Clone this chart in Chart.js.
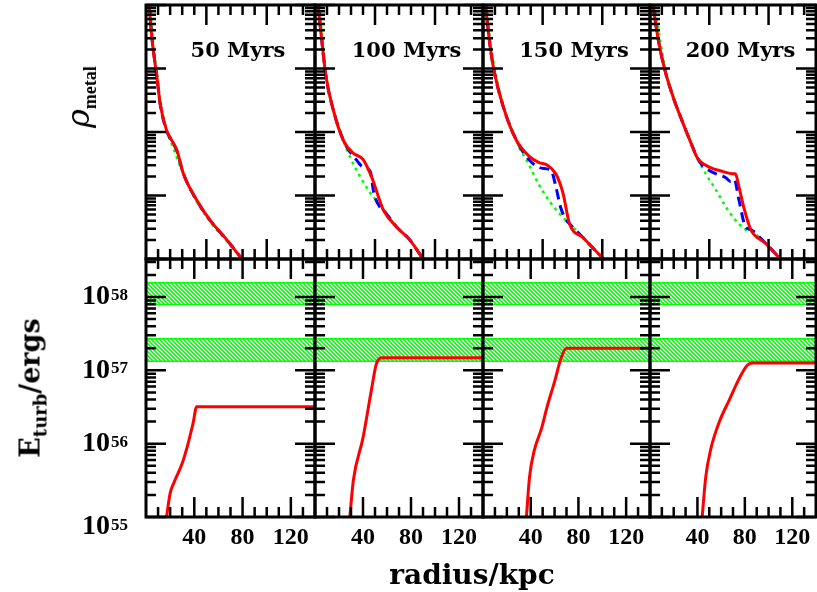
<!DOCTYPE html>
<html>
<head>
<meta charset="utf-8">
<script src="https://cdn.jsdelivr.net/npm/chart.js@4.4.1/dist/chart.umd.min.js"></script>
<style>
  body { margin: 0; background: #fff; }
  #wrap { position: relative; width: 817px; height: 592px; overflow: hidden; background: #fff; }
  #wrap canvas { position: absolute; left: 0; top: 0; pointer-events: none; }
  .lbl { position: absolute; white-space: nowrap; color: #000; line-height: 1; transform: translate(-50%, -50%); }
  .rot { transform: translate(-50%, -50%) rotate(-90deg); }
</style>
</head>
<body>
<div id="wrap"></div>
<script>
// snapshot names
const snapshotLabels = ['50 Myrs', '100 Myrs', '150 Myrs', '200 Myrs']

// top row: metal density (arbitrary units) vs radius (kpc)
// red = solid, blue = dashed, green = dotted
const redX50 = [2.5, 4.5, 6, 9, 11.7, 17, 21, 25.5, 31, 42, 53, 67, 79.5]
const redRho50 = [1.05, 0.36, 0.195, 0.074, 0.028, 0.0107, 0.0076, 0.0052, 0.0022, 8.5e-4, 4.1e-4, 2.0e-4, 1.0e-4]
const blueX50 = [2.5, 4.5, 6, 9, 11.7, 17, 21, 25.5, 31, 42, 53, 67, 79.5]
const blueRho50 = [1.05, 0.36, 0.2, 0.075, 0.028, 0.0105, 0.0074, 0.0051, 0.0022, 8.4e-4, 4.1e-4, 2.0e-4, 1.0e-4]
const greenX50 = [3.5, 6, 9, 12, 17, 22, 28, 33, 42, 53, 67, 79.5]
const greenRho50 = [1.0, 0.24, 0.085, 0.030, 0.0107, 0.0060, 0.0030, 0.0018, 8.0e-4, 3.9e-4, 1.9e-4, 1.0e-4]

const redX100 = [2.5, 5.6, 9.2, 15.3, 23.6, 32, 36, 40, 47, 57, 68, 79, 90]
const redRho100 = [1.0, 0.28, 0.074, 0.022, 0.0074, 0.0046, 0.0042, 0.0037, 0.0020, 5.9e-4, 3.2e-4, 2.0e-4, 1.0e-4]
const blueX100 = [2.5, 5.6, 9.2, 15.3, 23.6, 28, 32, 40, 46, 49, 54, 57, 68, 79, 90]
const blueRho100 = [1.0, 0.28, 0.074, 0.022, 0.0074, 0.0052, 0.0042, 0.0028, 0.0024, 0.0011, 6.6e-4, 5.9e-4, 3.2e-4, 2.0e-4, 1.0e-4]
const greenX100 = [3.5, 6, 9.2, 15.3, 23.6, 29, 37.5, 46, 53, 57, 68, 79, 90]
const greenRho100 = [1.0, 0.32, 0.079, 0.023, 0.0074, 0.0041, 0.0020, 0.0011, 7.6e-4, 5.9e-4, 3.2e-4, 2.0e-4, 1.0e-4]

const redX150 = [2, 5.3, 8.6, 17, 28, 39, 47, 54, 61, 67, 72.5, 83.6, 101]
const redRho150 = [1.0, 0.28, 0.107, 0.025, 0.0074, 0.0041, 0.0033, 0.0030, 0.0022, 0.0011, 3.6e-4, 2.2e-4, 1.0e-4]
const blueX150 = [2, 5.3, 8.6, 17, 28, 39, 49, 57, 61, 65, 69.7, 72.5, 83.6, 101]
const blueRho150 = [1.0, 0.28, 0.107, 0.025, 0.0074, 0.0036, 0.0027, 0.0025, 0.0014, 6.6e-4, 4.1e-4, 3.6e-4, 2.2e-4, 1.0e-4]
const greenX150 = [3, 6, 9.5, 17, 25, 30, 38, 46.7, 55, 64, 71, 72.5, 83.6, 101]
const greenRho150 = [1.0, 0.28, 0.107, 0.026, 0.010, 0.0059, 0.0032, 0.0015, 8.5e-4, 5.2e-4, 3.8e-4, 3.6e-4, 2.2e-4, 1.0e-4]

const redX200 = [2.5, 7, 12.5, 19.4, 27.8, 34, 40, 50, 61, 70, 72, 75, 79, 85, 97, 110]
const redRho200 = [1.0, 0.28, 0.095, 0.036, 0.0138, 0.0071, 0.0039, 0.0028, 0.0024, 0.0022, 0.0022, 0.00138, 6.6e-4, 2.9e-4, 1.8e-4, 1.0e-4]
const blueX200 = [2.5, 7, 12.5, 19.4, 27.8, 34, 40, 44, 55.5, 64, 68, 71, 75, 80.6, 85, 97, 110]
const blueRho200 = [1.0, 0.28, 0.095, 0.036, 0.0138, 0.0071, 0.0039, 0.0030, 0.0022, 0.0019, 0.00166, 0.0018, 8.5e-4, 3.2e-4, 2.9e-4, 1.8e-4, 1.0e-4]
const greenX200 = [3.5, 8, 12.5, 19.4, 27.8, 34, 40, 47, 55.6, 64, 72, 80.6, 85, 97, 110]
const greenRho200 = [1.0, 0.32, 0.105, 0.038, 0.0138, 0.0071, 0.0039, 0.0022, 0.00123, 6.6e-4, 4.1e-4, 2.9e-4, 2.75e-4, 1.8e-4, 1.0e-4]

// bottom row: turbulent energy (ergs) vs radius (kpc)
const eX50 = [17, 20, 23, 30, 34, 39, 42, 140]
const eTurb50 = [1.0e55, 2.1e55, 2.9e55, 5.4e55, 8.9e55, 1.9e56, 3.2e56, 3.2e56]
const eX100 = [29, 32, 40, 47, 51, 55.6, 140]
const eTurb100 = [1.0e55, 3.2e55, 1.2e56, 5.4e56, 1.2e57, 1.48e57, 1.48e57]
const eX150 = [36.4, 39, 43, 49, 54, 60, 65.6, 70, 140]
const eTurb150 = [1.0e55, 3.5e55, 8.1e55, 1.6e56, 3.3e56, 7.0e56, 1.5e57, 2.0e57, 2.0e57]
const eX200 = [44, 47, 51, 58, 67, 75, 82, 86, 140]
const eTurb200 = [1.0e55, 3.5e55, 8.1e55, 1.9e56, 4.0e56, 7.6e56, 1.17e57, 1.26e57, 1.26e57]

// hatched energy bands (ergs)
const bandUpper = [1.57e58, 2.7e57]
const bandLower = [7.9e57, 1.33e57]

// axes
const radiusRange = [0, 140]
const rhoRange = [1e-4, 1]
const energyRange = [1e55, 3.3e58]
const radiusTicks = [40, 80, 120]
const energyTicks = [1e55, 1e56, 1e57, 1e58]
const energyExp = ['55', '56', '57', '58']


const W = 817, H = 592
const panelLeft = [146, 315, 483, 650]
const panelRight = [315, 483, 650, 816]
const rowTop = [5, 259]
const rowBottom = [259, 517]

const wrap = document.getElementById('wrap')

function pts(xs, ys) {
    return xs.map((x, i) => ({x: x, y: ys[i]}))
}

function hatch() {
    let c = document.createElement('canvas')
    c.width = 4; c.height = 4
    let g = c.getContext('2d')
    g.strokeStyle = '#00ff00'
    g.lineWidth = 1.6
    g.beginPath()
    g.moveTo(-1, -1); g.lineTo(5, 5)
    g.moveTo(-1, 3); g.lineTo(1, 5)
    g.moveTo(3, -1); g.lineTo(5, 1)
    g.stroke()
    return g.createPattern(c, 'repeat')
}

// inward ticks on all four sides + frame + tick labels
const framePlugin = {
    id: 'frame',
    afterDraw(chart, args, o) {
        const ctx = chart.ctx
        const a = chart.chartArea
        const x = chart.scales.x, y = chart.scales.y
        ctx.save()
        ctx.strokeStyle = '#000'
        ctx.lineWidth = 2.5
        ctx.beginPath()
        for (let v = 10; v < x.max; v += 10) {
            let px = x.getPixelForValue(v)
            let len = v % o.xMajor === 0 ? 20 : 10
            ctx.moveTo(px, a.bottom); ctx.lineTo(px, a.bottom - len)
            ctx.moveTo(px, a.top); ctx.lineTo(px, a.top + len)
        }
        let e0 = Math.floor(Math.log10(y.min)), e1 = Math.ceil(Math.log10(y.max))
        for (let e = e0; e <= e1; e++) {
            for (let k = 1; k <= 9; k++) {
                let v = k * Math.pow(10, e)
                if (v < y.min * 0.999 || v > y.max * 1.001) continue
                let py = y.getPixelForValue(v)
                let len = k === 1 ? 20 : 10
                ctx.moveTo(a.left, py); ctx.lineTo(a.left + len, py)
                ctx.moveTo(a.right, py); ctx.lineTo(a.right - len, py)
            }
        }
        ctx.stroke()
        ctx.lineWidth = 3
        ctx.strokeRect(a.left, a.top, a.right - a.left, a.bottom - a.top)

        ctx.fillStyle = '#000'
        if (o.xLabels) {
            ctx.font = 'bold 24px "Liberation Serif"'
            ctx.textAlign = 'center'
            ctx.textBaseline = 'middle'
            o.xLabels.forEach(v => ctx.fillText(String(v), x.getPixelForValue(v), a.bottom + 21))
        }
        if (o.yLabels) {
            o.yLabels.forEach((v, i) => {
                let py = y.getPixelForValue(v)
                if (i === 0) py += 10
                ctx.font = 'bold 28px "Liberation Serif"'
                ctx.textAlign = 'right'
                ctx.textBaseline = 'middle'
                ctx.fillText('10', a.left - 36, py)
                ctx.font = 'bold 17px "Liberation Serif"'
                ctx.textAlign = 'left'
                ctx.textBaseline = 'top'
                ctx.fillText(o.yExp[i], a.left - 35, py - 10)
            })
        }
        ctx.restore()
    }
}

function makePanel(col, row, datasets, yRange, frameOpts) {
    let cv = document.createElement('canvas')
    cv.width = W; cv.height = H
    wrap.appendChild(cv)
    return new Chart(cv, {
        type: 'line',
        data: { datasets: datasets },
        options: {
            responsive: false,
            animation: false,
            devicePixelRatio: 1,
            layout: { padding: { left: panelLeft[col], right: W - panelRight[col], top: rowTop[row], bottom: H - rowBottom[row] } },
            elements: { point: { radius: 0 }, line: { cubicInterpolationMode: 'monotone' } },
            plugins: { legend: { display: false }, tooltip: { enabled: false }, frame: frameOpts },
            scales: {
                x: { type: 'linear', min: radiusRange[0], max: radiusRange[1], display: false },
                y: { type: 'logarithmic', min: yRange[0], max: yRange[1], display: false }
            }
        },
        plugins: [framePlugin]
    })
}

const topSeries = [
    [redX50, redRho50, blueX50, blueRho50, greenX50, greenRho50],
    [redX100, redRho100, blueX100, blueRho100, greenX100, greenRho100],
    [redX150, redRho150, blueX150, blueRho150, greenX150, greenRho150],
    [redX200, redRho200, blueX200, blueRho200, greenX200, greenRho200]
]
const bottomSeries = [[eX50, eTurb50], [eX100, eTurb100], [eX150, eTurb150], [eX200, eTurb200]]

const pattern = hatch()

for (let c = 0; c < 4; c++) {
    let s = topSeries[c]
    makePanel(c, 0, [
        { data: pts(s[0], s[1]), borderColor: '#ff0000', borderWidth: 3 },
        { data: pts(s[2], s[3]), borderColor: '#0000ff', borderWidth: 3, borderDash: [10, 6] },
        { data: pts(s[4], s[5]), borderColor: '#00ff00', borderWidth: 2.5, borderDash: [3, 4] }
    ], rhoRange, { xMajor: 50 })

    let b = bottomSeries[c]
    let sets = [{ data: pts(b[0], b[1]), borderColor: '#ff0000', borderWidth: 3 }]
    for (let k = 0; k < bandUpper.length; k++) {
        sets.push({ data: pts(radiusRange, [bandUpper[k], bandUpper[k]]), borderColor: '#00ff00', borderWidth: 1.5, backgroundColor: pattern, fill: '+1', cubicInterpolationMode: 'default', tension: 0 })
        sets.push({ data: pts(radiusRange, [bandLower[k], bandLower[k]]), borderColor: '#00ff00', borderWidth: 1.5, fill: false, cubicInterpolationMode: 'default', tension: 0 })
    }
    makePanel(c, 1, sets, energyRange, {
        xMajor: 40,
        xLabels: radiusTicks,
        yLabels: c === 0 ? energyTicks : null,
        yExp: energyExp
    })

    let t = document.createElement('div')
    t.className = 'lbl'
    t.style.left = ((panelLeft[c] + panelRight[c]) / 2 + 7.5) + 'px'
    t.style.top = '49px'
    t.style.font = 'bold 21px "DejaVu Serif"'
    t.textContent = snapshotLabels[c]
    wrap.appendChild(t)
}

// axis titles
let xt = document.createElement('div')
xt.className = 'lbl'
xt.style.left = '472px'; xt.style.top = '574px'
xt.style.font = 'bold 28px "DejaVu Serif"'
xt.textContent = 'radius/kpc'
wrap.appendChild(xt)

let yt = document.createElement('div')
yt.className = 'lbl rot'
yt.style.left = '30px'; yt.style.top = '388px'
yt.style.font = 'bold 27px "DejaVu Serif"'
yt.innerHTML = 'E<span style="font-size:18px;position:relative;top:7px">turb</span>/ergs'
wrap.appendChild(yt)

let rt = document.createElement('div')
rt.className = 'lbl rot'
rt.style.left = '78px'; rt.style.top = '97px'
rt.innerHTML = '<span style="font:italic 32px \'DejaVu Serif\'">ρ</span><span style="font:bold 18px \'Liberation Serif\';position:relative;top:7px">metal</span>'
wrap.appendChild(rt)
</script>
</body>
</html>
